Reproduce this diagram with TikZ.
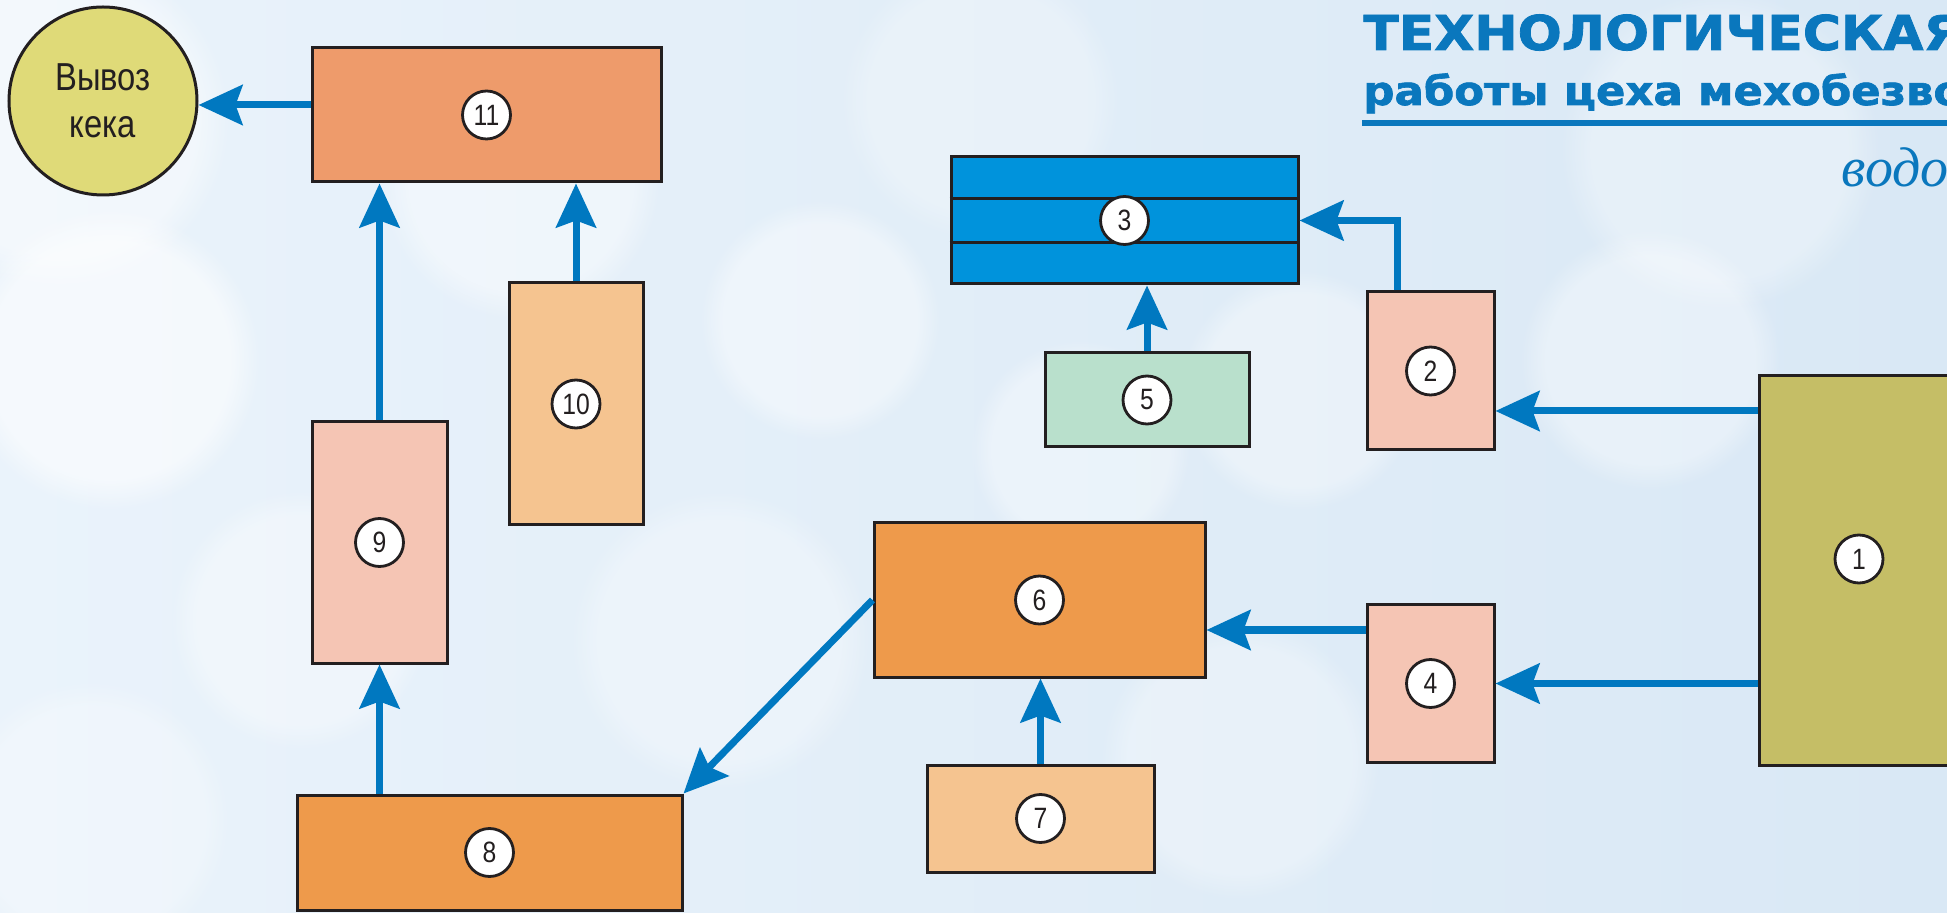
\documentclass[tikz,border=0pt]{standalone}
\usepackage{fontspec}
\setmainfont{Liberation Sans}
\newfontfamily\narrowsans[FakeStretch=0.84]{Liberation Sans}
\newfontfamily\headfont[BoldFeatures={FakeBold=1.6}]{DejaVu Sans}
\newfontfamily\cursive{Liberation Serif}
\usetikzlibrary{arrows.meta,calc,fadings}

\definecolor{edge}{HTML}{231F20}
\definecolor{flowblue}{HTML}{0078C0}
\definecolor{titleblue}{HTML}{0A77BD}
\definecolor{bgA}{HTML}{EAF3FB}
\definecolor{bgB}{HTML}{D9E8F5}
\definecolor{cOlive}{HTML}{C5BE66}
\definecolor{cPink}{HTML}{F5C5B4}
\definecolor{cPeach}{HTML}{F5C490}
\definecolor{cOrange}{HTML}{EE9A4B}
\definecolor{cSalmon}{HTML}{EE9B6B}
\definecolor{cBlue}{HTML}{0093DC}
\definecolor{cMint}{HTML}{B9E0CC}
\definecolor{cYellow}{HTML}{DFDA78}

\begin{document}
\begin{tikzpicture}[x=0.5pt,y=-0.5pt,
  box/.style={draw=edge, line width=1.5pt, inner sep=0pt},
  num/.style={circle, draw=edge, fill=white, line width=1.4pt,
    minimum size=24pt, inner sep=0pt, text=edge,
    font=\narrowsans\fontsize{14.7pt}{15pt}\selectfont},
  flow/.style={draw=flowblue, line width=3.5pt,
    -{Stealth[length=22pt,width=20pt,inset=3.5pt]}},
  bokeh/.style={fill=white, path fading=circle with fuzzy edge 20 percent},
  headline/.style={anchor=base west, inner sep=0pt, text=titleblue}
]
\path[use as bounding box] (0,0) rectangle (1947,913);
\clip (0,0) rectangle (1947,913);

% soft light-blue backdrop with blurred light spots
\shade[left color=bgA, right color=bgB] (0,0) rectangle (1947,913);
\fill[bokeh, opacity=0.55] (110,360) circle (150);
\fill[bokeh, opacity=0.45] (60,120) circle (170);
\fill[bokeh, opacity=0.40] (520,180) circle (140);
\fill[bokeh, opacity=0.35] (300,620) circle (130);
\fill[bokeh, opacity=0.40] (820,320) circle (120);
\fill[bokeh, opacity=0.35] (1080,450) circle (110);
\fill[bokeh, opacity=0.35] (1300,390) circle (120);
\fill[bokeh, opacity=0.35] (1650,360) circle (130);
\fill[bokeh, opacity=0.30] (1720,150) circle (160);
\fill[bokeh, opacity=0.30] (720,640) circle (150);
\fill[bokeh, opacity=0.30] (1240,760) circle (140);
\fill[bokeh, opacity=0.30] (90,820) circle (140);
\fill[bokeh, opacity=0.25] (980,100) circle (140);

% heading
\node[headline] (t1) at (1363,50)
  {\resizebox{300pt}{\height}{\headfont\bfseries\fontsize{24pt}{24pt}\selectfont ТЕХНОЛОГИЧЕСКАЯ}};
\node[headline] (t2) at (1363,105)
  {\resizebox{300pt}{\height}{\headfont\bfseries\fontsize{20pt}{20pt}\selectfont работы цеха мехобезво}};
\draw[titleblue, line width=3pt] (1362,123) -- (1947,123);
\node[anchor=base west, inner sep=0pt, text=titleblue,
  font=\cursive\itshape\fontsize{28pt}{28pt}\selectfont] (t3) at (1841,187) {водо};

% units
\node[circle, draw=edge, line width=1.5pt, fill=cYellow, minimum size=94pt,
  inner sep=0pt, align=center, text=edge,
  font=\narrowsans\fontsize{19.5pt}{23.5pt}\selectfont] (kek) at (103,101) {Вывоз\\кека};
\node[box, fill=cSalmon, minimum width=174.5pt, minimum height=67pt]   (b11) at (486.5,115) {};
\node[box, fill=cPeach,  minimum width=67pt,    minimum height=121pt]  (b10) at (576,404) {};
\node[box, fill=cPink,   minimum width=67.5pt,  minimum height=120.5pt](b9)  at (379.5,542.5) {};
\node[box, fill=cOrange, minimum width=192.5pt, minimum height=57.5pt] (b8)  at (489.5,852.5) {};
\node[box, fill=cOrange, minimum width=165.5pt, minimum height=77pt]   (b6)  at (1039.5,600) {};
\node[box, fill=cPeach,  minimum width=113.5pt, minimum height=53.5pt] (b7)  at (1040.5,818.5) {};
\node[box, fill=cPink,   minimum width=63.5pt,  minimum height=78.5pt] (b4)  at (1430.5,683.5) {};
\node[box, fill=cPink,   minimum width=63.5pt,  minimum height=79pt]   (b2)  at (1430.5,371) {};
\node[box, fill=cOlive,  minimum width=100pt,   minimum height=194.5pt](b1)  at (1859,570.5) {};
\node[box, fill=cBlue,   minimum width=173.5pt, minimum height=63.5pt] (b3)  at (1124.5,220.5) {};
\node[box, fill=cMint,   minimum width=102pt,   minimum height=47pt]   (b5)  at (1147,400) {};

% tiers of unit 3
\draw[edge, line width=1.5pt] ($(b3.north west)!1/3!(b3.south west)$) -- ($(b3.north east)!1/3!(b3.south east)$);
\draw[edge, line width=1.5pt] ($(b3.north west)!2/3!(b3.south west)$) -- ($(b3.north east)!2/3!(b3.south east)$);

% number marks
\node[num] (n1)  at (1859,559) {1};
\node[num] (n2)  at (b2.center) {2};
\node[num] (n3)  at (b3.center) {3};
\node[num] (n4)  at (b4.center) {4};
\node[num] (n5)  at (b5.center) {5};
\node[num] (n6)  at (b6.center) {6};
\node[num] (n7)  at (b7.center) {7};
\node[num] (n8)  at (b8.center) {8};
\node[num] (n9)  at (b9.center) {9};
\node[num] (n10) at (b10.center) {10};
\node[num] (n11) at (b11.center) {11};

% flows
\coordinate (in2) at ([yshift=-20pt]b2.east);
\coordinate (in6) at ([yshift=-15pt]b6.east);
\coordinate (inK) at ([yshift=-2pt]kek.east);
\draw[flow] (b1.west |- in2) -- (in2);
\draw[flow] (b1.west |- b4.east) -- (b4.east);
\draw[flow] ([xshift=16pt]b2.north west) |- (b3.east);
\draw[flow] (b5.north) -- (b5.north |- b3.south);
\draw[flow] (b4.west |- in6) -- (in6);
\draw[flow] (b7.north) -- (b7.north |- b6.south);
\draw[flow] (b6.west) -- (b8.north east);
\draw[flow] (b8.north -| b9.south) -- (b9.south);
\draw[flow] (b9.north) -- (b9.north |- b11.south);
\draw[flow] (b10.north) -- (b10.north |- b11.south);
\draw[flow] (b11.west |- inK) -- (inK);
\end{tikzpicture}
\end{document}
